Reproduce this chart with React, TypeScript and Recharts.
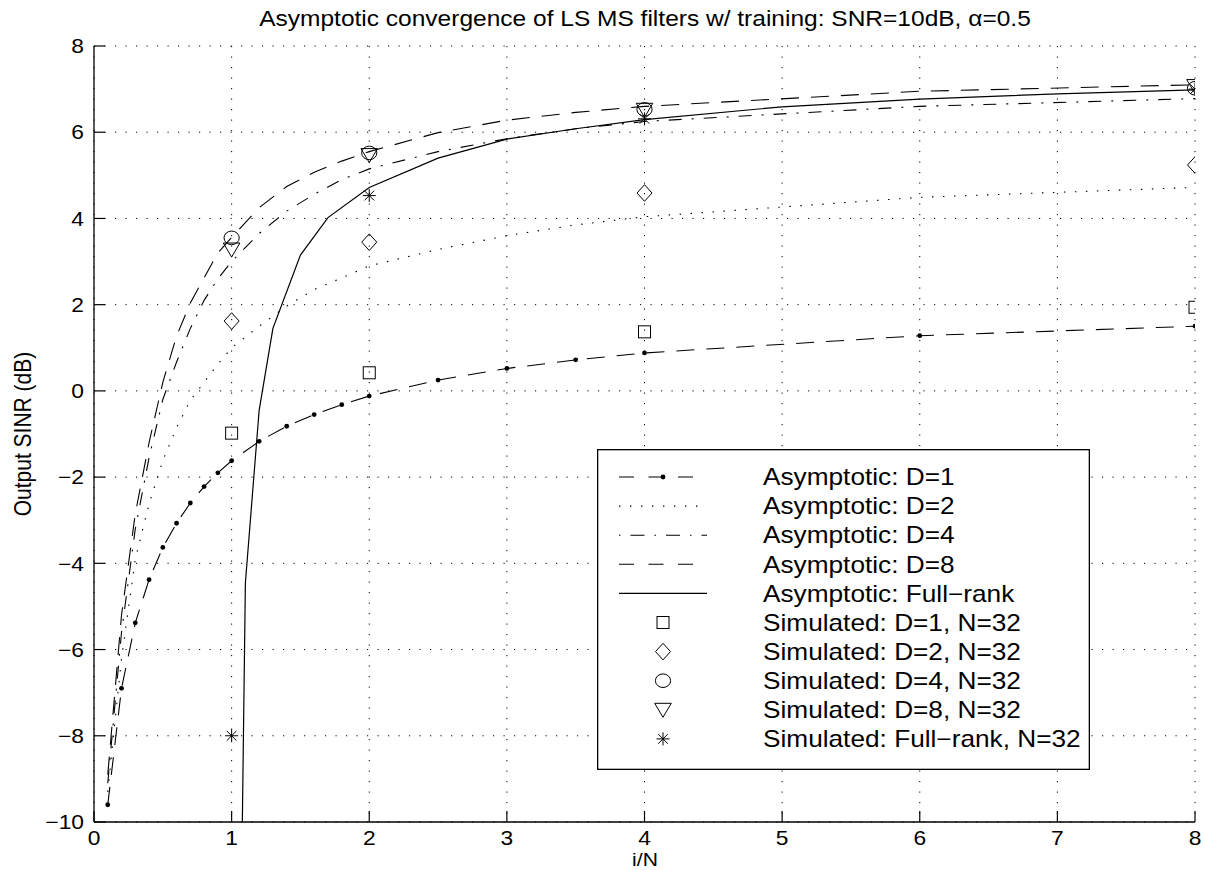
import { ComposedChart, Line, Scatter, XAxis, YAxis, CartesianGrid, Legend } from "recharts";

const FONT = '"Liberation Sans", Arial, Helvetica, sans-serif';
// glyphs in the reference look stretched sideways, so text gets a small scaleX
const SX = 1.14;
const W = 1205;
const H = 870;

// asymptotic curves share this grid of i/N
const xAsym = [0.1, 0.2, 0.3, 0.4, 0.5, 0.6, 0.7, 0.8, 0.9, 1.0, 1.2, 1.4, 1.6, 1.8, 2.0, 2.5, 3.0, 3.5, 4.0, 6.0, 8.0];
const asymD1 = [-9.6, -6.9, -5.38, -4.38, -3.63, -3.07, -2.6, -2.22, -1.9, -1.62, -1.17, -0.82, -0.55, -0.32, -0.12, 0.25, 0.52, 0.72, 0.88, 1.28, 1.5];
const asymD2 = [-9.3, -6.2, -3.9, -2.62, -1.62, -0.85, -0.22, 0.2, 0.62, 1.0, 1.5, 1.97, 2.35, 2.62, 2.9, 3.28, 3.6, 3.85, 4.04, 4.49, 4.72];
const asymD4 = [-9.1, -5.6, -3.2, -1.55, -0.2, 0.67, 1.45, 2.1, 2.6, 3.0, 3.65, 4.17, 4.56, 4.9, 5.15, 5.55, 5.85, 6.08, 6.25, 6.6, 6.78];
const asymD8 = [-8.9, -5.2, -2.85, -1.2, 0.2, 1.27, 2.04, 2.62, 3.2, 3.56, 4.25, 4.74, 5.07, 5.33, 5.55, 5.99, 6.28, 6.46, 6.6, 6.95, 7.1];

// full-rank curve has its own grid (it drops below the axis near i/N = 1)
const xFull = [1.05, 1.1, 1.2, 1.3, 1.5, 1.7, 2.0, 2.5, 3.0, 3.5, 4.0, 5.0, 6.0, 7.0, 8.0];
const asymFull = [-17, -4.45, -0.45, 1.45, 3.15, 4.02, 4.72, 5.4, 5.84, 6.08, 6.29, 6.59, 6.77, 6.89, 6.98];

// simulated, N=32
const xSim = [1, 2, 4, 8];
const simD1 = [-0.98, 0.42, 1.37, 1.94];
const simD2 = [1.62, 3.45, 4.59, 5.24];
const simD4 = [3.55, 5.52, 6.53, 7.02];
const simD8 = [3.28, 5.47, 6.52, 7.07];
const simFull = [-8.0, 4.53, 6.31, 7.0];

const xTicks = [0, 1, 2, 3, 4, 5, 6, 7, 8];
const yTicks = [-10, -8, -6, -4, -2, 0, 2, 4, 6, 8];

const legendLabels = [
  "Asymptotic: D=1",
  "Asymptotic: D=2",
  "Asymptotic: D=4",
  "Asymptotic: D=8",
  "Asymptotic: Full\u2212rank",
  "Simulated: D=1, N=32",
  "Simulated: D=2, N=32",
  "Simulated: D=4, N=32",
  "Simulated: D=8, N=32",
  "Simulated: Full\u2212rank, N=32",
];

const pts = (xs: number[], ys: number[]) => xs.map((x, i) => ({ x, y: ys[i] }));

const TICK_LEN = 11;
const TICK_FONT = 20;
const fmt = (v: number) => String(v).replace("-", "\u2212");

const BottomTick = (p: any) => (
  <g>
    <line x1={p.x} x2={p.x} y1={p.y} y2={p.y - TICK_LEN} stroke="#000" strokeWidth={1.2} />
    <text
      transform={`translate(${p.x} ${p.y + 22.5}) scale(${SX} 1)`}
      textAnchor="middle"
      fontFamily={FONT}
      fontSize={TICK_FONT}
      fill="#000"
    >
      {fmt(p.payload.value)}
    </text>
  </g>
);

const LeftTick = (p: any) => (
  <g>
    <line x1={p.x} x2={p.x + TICK_LEN} y1={p.y} y2={p.y} stroke="#000" strokeWidth={1.2} />
    <text
      transform={`translate(${p.x - 10} ${p.y + 7.2}) scale(${SX} 1)`}
      textAnchor="end"
      fontFamily={FONT}
      fontSize={TICK_FONT}
      fill="#000"
    >
      {fmt(p.payload.value)}
    </text>
  </g>
);

const TopTick = (p: any) => (
  <line x1={p.x} x2={p.x} y1={p.y} y2={p.y + TICK_LEN} stroke="#000" strokeWidth={1.2} />
);

const RightTick = (p: any) => (
  <line x1={p.x} x2={p.x - TICK_LEN} y1={p.y} y2={p.y} stroke="#000" strokeWidth={1.2} />
);

// marker shapes (matlab style, open)
const Square = (cx: number, cy: number) => (
  <rect x={cx - 6} y={cy - 6} width={12} height={12} fill="none" stroke="#000" strokeWidth={1} />
);
const Diamond = (cx: number, cy: number) => (
  <path d={`M${cx},${cy - 8.3} L${cx + 7.5},${cy} L${cx},${cy + 8.3} L${cx - 7.5},${cy} Z`} fill="none" stroke="#000" strokeWidth={1} />
);
const Circle = (cx: number, cy: number) => (
  <ellipse cx={cx} cy={cy} rx={7.6} ry={6.8} fill="none" stroke="#000" strokeWidth={1} />
);
const TriDown = (cx: number, cy: number) => (
  <path d={`M${cx - 8.3},${cy - 6.5} L${cx + 8.3},${cy - 6.5} L${cx},${cy + 7.5} Z`} fill="none" stroke="#000" strokeWidth={1} />
);
const Star = (cx: number, cy: number) => (
  <g stroke="#000" strokeWidth={1}>
    <line x1={cx} x2={cx} y1={cy - 6.5} y2={cy + 6.5} />
    <line x1={cx - 6.5} x2={cx + 6.5} y1={cy} y2={cy} />
    <line x1={cx - 4.8} x2={cx + 4.8} y1={cy - 4.8} y2={cy + 4.8} />
    <line x1={cx - 4.8} x2={cx + 4.8} y1={cy + 4.8} y2={cy - 4.8} />
  </g>
);
const SmallDot = (cx: number, cy: number) => <circle cx={cx} cy={cy} r={2.4} fill="#000" stroke="none" />;

const shapeOf = (fn: (cx: number, cy: number) => any) => (p: any) => fn(p.cx, p.cy);

const LEG_W = 493;
const LEG_H = 321;
const ROW0 = 28;
const ROW_H = 29.1;

const LegendBox = () => {
  const rowY = (i: number) => ROW0 + ROW_H * i;
  const markers = [Square, Diamond, Circle, TriDown, Star];
  return (
    <svg width={LEG_W} height={LEG_H} style={{ display: "block" }}>
      <rect x={0.65} y={0.65} width={LEG_W - 1.3} height={LEG_H - 1.3} fill="#fff" stroke="#000" strokeWidth={1.3} />
      <g stroke="#000" strokeWidth={1.1} fill="none">
        <line x1={22} x2={96} y1={rowY(0)} y2={rowY(0)} strokeDasharray="15 14.5" />
        <line x1={22} x2={104} y1={rowY(1)} y2={rowY(1)} strokeDasharray="1.4 9.6" />
        <line x1={22} x2={110} y1={rowY(2)} y2={rowY(2)} strokeDasharray="1.5 10 14 10" />
        <line x1={22} x2={96} y1={rowY(3)} y2={rowY(3)} strokeDasharray="15 14.5" />
        <line x1={22} x2={110} y1={rowY(4)} y2={rowY(4)} />
      </g>
      {SmallDot(66, rowY(0))}
      {markers.map((m, i) => (
        <g key={i}>{m(66, rowY(5 + i))}</g>
      ))}
      {legendLabels.map((t, i) => (
        <text
          key={t}
          transform={`translate(166 ${rowY(i) + 8.2}) scale(${SX} 1)`}
          fontFamily={FONT}
          fontSize={23}
          fill="#000"
        >
          {t}
        </text>
      ))}
    </svg>
  );
};

const lineBase = {
  dataKey: "y",
  type: "linear" as const,
  stroke: "#000",
  strokeWidth: 1.1,
  isAnimationActive: false,
  legendType: "none" as const,
};

export default function App() {
  return (
    <div style={{ position: "absolute", left: 0, top: 0, width: W, height: H, background: "#fff", fontFamily: FONT }}>
      <div
        style={{
          position: "absolute",
          left: 645,
          top: 6,
          transform: `translateX(-50%) scaleX(${SX})`,
          fontSize: 21.5,
          lineHeight: "26px",
          whiteSpace: "nowrap",
          color: "#000",
        }}
      >
        Asymptotic convergence of LS MS filters w/ training: SNR=10dB, {"\u03b1"}=0.5
      </div>
      <div style={{ position: "absolute", left: 23, top: 434, width: 0, height: 0 }}>
        <div
          style={{
            position: "absolute",
            left: 0,
            top: 0,
            transform: `translate(-50%, -50%) scaleX(${SX}) rotate(-90deg)`,
            fontSize: 21,
            lineHeight: "24px",
            whiteSpace: "nowrap",
          }}
        >
          Output SINR (dB)
        </div>
      </div>
      <div
        style={{
          position: "absolute",
          left: 645,
          top: 850,
          transform: `translateX(-50%) scaleX(${SX})`,
          fontSize: 18.5,
          lineHeight: "19px",
          whiteSpace: "nowrap",
        }}
      >
        i/N
      </div>

      <ComposedChart width={W} height={H} margin={{ top: 46, right: 10, bottom: 0, left: 0 }}>
        <CartesianGrid stroke="#000" strokeWidth={1} strokeDasharray="1.2 9.3" />
        <XAxis
          type="number"
          dataKey="x"
          domain={[0, 8]}
          ticks={xTicks}
          interval={0}
          allowDataOverflow
          height={48}
          tickSize={0}
          tickMargin={0}
          tickLine={false}
          axisLine={{ stroke: "#000", strokeWidth: 1.3 }}
          tick={BottomTick}
        />
        <XAxis
          xAxisId="top"
          orientation="top"
          type="number"
          domain={[0, 8]}
          ticks={xTicks}
          interval={0}
          allowDataOverflow
          height={0}
          tickSize={0}
          tickMargin={0}
          tickLine={false}
          axisLine={{ stroke: "#000", strokeWidth: 1.3 }}
          tick={TopTick}
        />
        <YAxis
          type="number"
          dataKey="y"
          domain={[-10, 8]}
          ticks={yTicks}
          interval={0}
          allowDataOverflow
          width={94}
          tickSize={0}
          tickMargin={0}
          tickLine={false}
          axisLine={{ stroke: "#000", strokeWidth: 1.3 }}
          tick={LeftTick}
        />
        <YAxis
          yAxisId="right"
          orientation="right"
          type="number"
          domain={[-10, 8]}
          ticks={yTicks}
          interval={0}
          allowDataOverflow
          width={0}
          tickSize={0}
          tickMargin={0}
          tickLine={false}
          axisLine={{ stroke: "#000", strokeWidth: 1.3 }}
          tick={RightTick}
        />

        <Line {...lineBase} data={pts(xAsym, asymD2)} strokeDasharray="1.5 9.5" dot={false} />
        <Line {...lineBase} data={pts(xAsym, asymD4)} strokeDasharray="13 10 2 10" dot={false} />
        <Line {...lineBase} data={pts(xAsym, asymD8)} strokeDasharray="18 12" dot={false} />
        <Line {...lineBase} data={pts(xFull, asymFull)} strokeWidth={1.2} dot={false} />
        <Line
          {...lineBase}
          data={pts(xAsym, asymD1)}
          strokeDasharray="18 12"
          dot={shapeOf(SmallDot)}
        />

        <Scatter data={pts(xSim, simD1)} dataKey="y" shape={shapeOf(Square)} isAnimationActive={false} legendType="none" />
        <Scatter data={pts(xSim, simD2)} dataKey="y" shape={shapeOf(Diamond)} isAnimationActive={false} legendType="none" />
        <Scatter data={pts(xSim, simD4)} dataKey="y" shape={shapeOf(Circle)} isAnimationActive={false} legendType="none" />
        <Scatter data={pts(xSim, simD8)} dataKey="y" shape={shapeOf(TriDown)} isAnimationActive={false} legendType="none" />
        <Scatter data={pts(xSim, simFull)} dataKey="y" shape={shapeOf(Star)} isAnimationActive={false} legendType="none" />

        <Legend
          layout="horizontal"
          verticalAlign="middle"
          align="center"
          width={LEG_W}
          height={LEG_H}
          wrapperStyle={{ left: 597, top: 449, width: LEG_W, height: LEG_H }}
          content={LegendBox}
        />
      </ComposedChart>
    </div>
  );
}
